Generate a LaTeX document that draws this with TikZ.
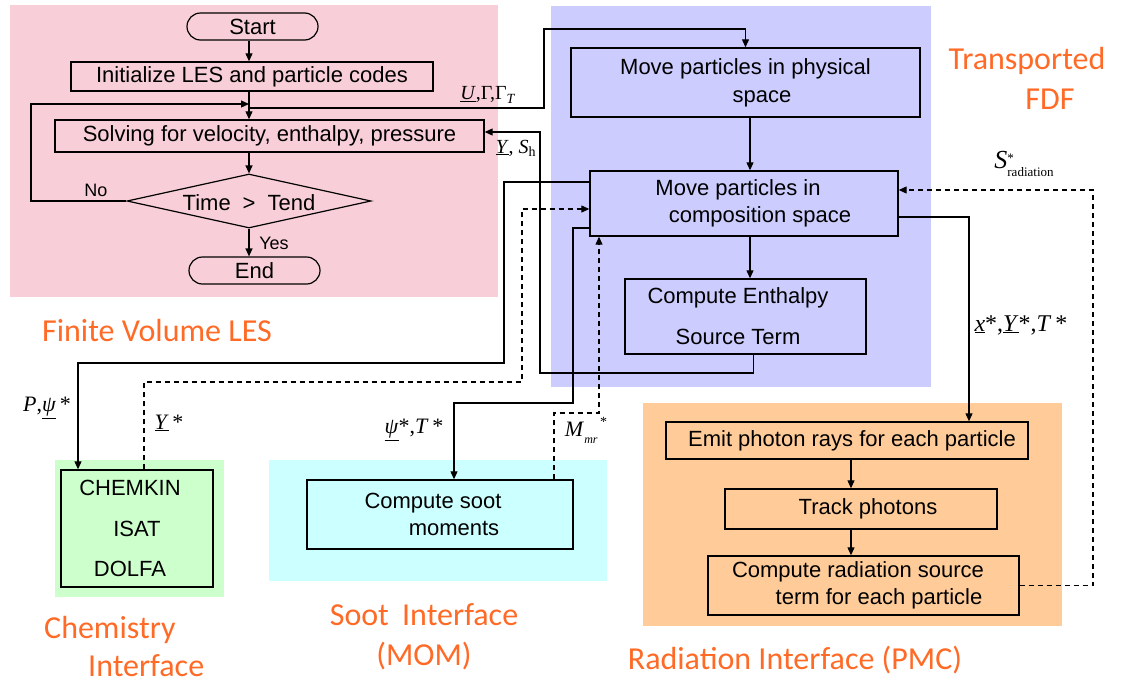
\documentclass[tikz,border=0pt]{standalone}
\usepackage{fontspec}
\setmainfont{Liberation Sans}
\newfontfamily\serifl{Liberation Serif}
\newfontfamily\orf{Carlito}
\usetikzlibrary{arrows.meta,shapes.geometric,shapes.misc}
\definecolor{bgpink}{HTML}{F8CFD8}
\definecolor{bgblue}{HTML}{CCCCFF}
\definecolor{bggreen}{HTML}{CCFFCC}
\definecolor{bgcyan}{HTML}{CCFFFF}
\definecolor{bgorange}{HTML}{FFCC99}
\definecolor{lblorange}{HTML}{FF6A26}
\begin{document}
\begin{tikzpicture}[x=1pt,y=-1pt,
 box/.style={draw=black, line width=1.4pt, inner sep=0pt, align=center, font=\fontsize{22}{27}\selectfont},
 term/.style={rounded rectangle, draw, line width=1.2pt, inner sep=0pt, minimum width=131pt, minimum height=27pt, font=\fontsize{22}{26}\selectfont},
 conn/.style={line width=1.2pt, -{Triangle[length=8pt,width=7pt]}},
 dconn/.style={conn, dash pattern=on 5pt off 4pt},
 ml/.style={font=\serifl\fontsize{22}{26}\selectfont, inner sep=0pt},
 sml/.style={font=\serifl\fontsize{20}{24}\selectfont, inner sep=0pt},
 yn/.style={font=\fontsize{18}{22}\selectfont, inner sep=0pt},
 ttl/.style={font=\orf\fontsize{32}{40}\selectfont, text=lblorange, inner sep=0pt, align=center}]
\useasboundingbox (0,0) rectangle (1121,683);
% panels
\fill[bgpink] (10,5) rectangle (498,297);
\fill[bgblue] (551,6) rectangle (931,387);
\fill[bggreen] (55,460) rectangle (224,597);
\fill[bgcyan] (269,460) rectangle (607,581);
\fill[bgorange] (643,403) rectangle (1062,626);
% LES flowchart
\node[term] (start) at (252.5,26.5) {Start};
\node[box, minimum width=362pt, minimum height=29pt] (init) at (252,76.5) {Initialize LES and particle codes};
\node[box, minimum width=429pt, minimum height=32pt] (solve) at (269.5,136) {Solving for velocity, enthalpy, pressure};
\node[diamond, draw, line width=1.2pt, inner sep=0pt, minimum width=244pt, minimum height=54pt,
  label={[font=\fontsize{22}{26}\selectfont, inner sep=0pt, yshift=-2pt]center:{Time\hspace{12pt}>\hspace{12pt}Tend}}] (dec) at (249,201) {};
\node[term] (end) at (254.5,270.5) {End};
% FDF
\node[box, minimum width=349pt, minimum height=69pt, font=\fontsize{22}{28}\selectfont] (phys) at (745.5,82.5) {Move particles in physical\\\hspace*{33pt}space};
\node[box, minimum width=308pt, minimum height=65pt] (comp) at (744,203.5) {Move particles in\hspace*{12pt}\\\hspace*{32pt}composition space};
\node[box, minimum width=241pt, minimum height=75pt, font=\fontsize{22}{41}\selectfont] (enth) at (745.5,316.5) {Compute Enthalpy\hspace*{15pt}\\Source Term\hspace*{15pt}};
% interfaces
\node[box, minimum width=152pt, minimum height=117pt, font=\fontsize{22}{40.5}\selectfont] (chem) at (137,528.5) {CHEMKIN\hspace*{14pt}\\ISAT\hspace*{14pt}\\DOLFA\hspace*{14pt}};
\node[box, minimum width=266pt, minimum height=69pt] (soot) at (440,514.5) {Compute soot\hspace*{14pt}\\\hspace*{28pt}moments};
\node[box, minimum width=362pt, minimum height=37pt] (emit) at (847,440.5) {\hspace*{10pt}Emit photon rays for each particle};
\node[box, minimum width=272pt, minimum height=40pt] (track) at (861,509) {\hspace*{14pt}Track photons};
\node[box, minimum width=311pt, minimum height=59pt] (rad) at (863.5,585.5) {Compute radiation source\hspace*{11pt}\\\hspace*{31pt}term for each particle};
% coordinates
\coordinate (nocorner) at (31,104);
\coordinate (ujoin) at (249,108);
\coordinate (ucorner) at (544,29);
\coordinate (ysc) at (540,373);
\coordinate (pc) at (504,363);
\coordinate (yc) at (522,382);
\coordinate (sc) at (573,403);
\coordinate (mc) at (599,413);
\coordinate (pcol) at (750,0);
\coordinate (ecol) at (851,0);
\coordinate (rcc) at (1093,190);
% connectors LES
\draw[conn] (start.south -| dec.north) -- (init.north -| dec.north);
\draw[conn] (init.south -| dec.north) -- (solve.north -| dec.north);
\draw[conn] (solve.south -| dec.north) -- (dec.north);
\draw[conn] (dec.south) -- (end.north -| dec.south);
\draw[conn] (dec.west) -| (nocorner) -- (nocorner -| dec.north);
\node[yn] (no) at (96,190) {No};
\node[yn] (yes) at (274,243) {Yes};
% coupling
\draw[conn] (ujoin) -| (ucorner) -| (phys.north);
\draw[conn] ([xshift=8pt]enth.south) |- (ysc) |- ([yshift=4pt]solve.east);
\draw[conn] (phys.south -| pcol) -- (comp.north -| pcol);
\draw[conn] (comp.south -| pcol) -- (enth.north -| pcol);
\draw[conn] ([yshift=21.5pt]comp.west) -| (pc) -| ([xshift=-59pt]chem.north);
\draw[dconn] ([xshift=7pt]chem.north) |- (yc) |- ([yshift=-5.5pt]comp.west);
\draw[conn] ([yshift=-24.5pt]comp.west) -| (sc) -| ([xshift=14pt]soot.north);
\draw[dconn] ([xshift=114pt]soot.north) |- (mc) -- (mc |- comp.south);
\draw[conn] ([yshift=-13.5pt]comp.east) -| ([xshift=122pt]emit.north);
\draw[dconn] (rad.east) -| (rcc) -- (rcc -| comp.east);
\draw[conn] (emit.south -| ecol) -- (track.north -| ecol);
\draw[conn] (track.south -| ecol) -- (rad.north -| ecol);
% math labels
\node[sml] (lu) at (488,95) {\underline{\textit{U}},Γ,Γ\textsubscript{\textit{T}}};
\node[sml] (lys) at (516,148) {\underline{\textit{Y}}, \textit{S}\textsubscript{h}};
\node[ml] (lp) at (47,408) {\textit{P},\underline{\textit{ψ}}\,*};
\node[ml] (ly) at (169,423) {\underline{\textit{Y}}\,*};
\node[ml] (lpt) at (414,430) {\underline{\textit{ψ}}*,\textit{T}\,*};
\node[ml] (lm) at (586,430) {\textit{M}\raisebox{-7pt}{\fontsize{12}{12}\selectfont\textit{mr}}\raisebox{10pt}{\fontsize{14}{14}\selectfont\,*}};
\node[ml, font=\serifl\fontsize{24}{28}\selectfont] (lx) at (1021,325) {\underline{\textit{x}}*,\underline{\textit{Y}}*,\textit{T}\,*};
\node[ml, font=\serifl\fontsize{26}{28}\selectfont] (ls) at (1024,166) {\textit{S}\raisebox{-8pt}{\fontsize{13}{13}\selectfont\begin{tabular}[b]{@{}l@{}}*\\[1pt]radiation\end{tabular}}};
% titles
\node[ttl] (tfv) at (157,331) {Finite Volume LES};
\node[ttl] (ttf) at (1027,78.5) {Transported\\\hspace*{46pt}FDF};
\node[ttl, align=left, anchor=west, font=\orf\fontsize{32}{38}\selectfont] (tch) at (44,646) {Chemistry\\\hspace*{44pt}Interface};
\node[ttl] (tso) at (424,637) {Soot\hspace{6pt} Interface\\(MOM)};
\node[ttl] (tra) at (795,660) {Radiation Interface (PMC)};
\end{tikzpicture}
\end{document}
